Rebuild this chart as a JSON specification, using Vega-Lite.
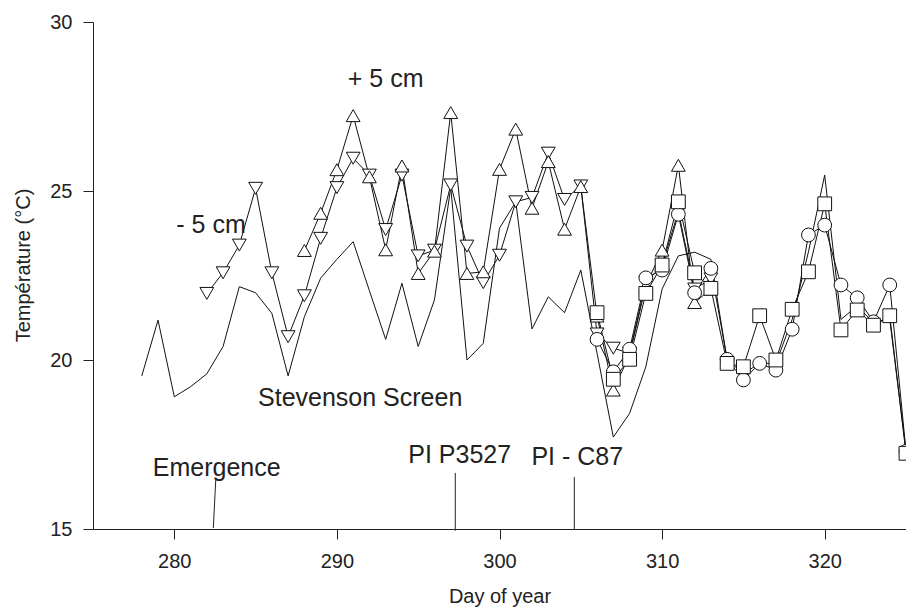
{
  "$schema": "https://vega.github.io/schema/vega-lite/v6.json",
  "width": 813,
  "height": 507,
  "autosize": {"type": "none"},
  "padding": {"left": 93, "top": 22, "right": 0, "bottom": 78},
  "background": "white",
  "config": {
    "view": {"stroke": null},
    "font": "Liberation Sans",
    "axis": {
      "grid": false,
      "domainColor": "#222222",
      "tickColor": "#222222",
      "labelColor": "#222222",
      "titleColor": "#222222",
      "labelFont": "Liberation Sans",
      "titleFont": "Liberation Sans",
      "labelFontSize": 20,
      "titleFontSize": 20,
      "titleFontWeight": "normal",
      "tickSize": 10,
      "domainWidth": 1,
      "tickWidth": 1
    }
  },
  "datasets": {
    "temps": [
      {"series": "-5 cm", "day": 282, "temp": 21.97},
      {"series": "-5 cm", "day": 283, "temp": 22.58},
      {"series": "-5 cm", "day": 284, "temp": 23.40},
      {"series": "-5 cm", "day": 285, "temp": 25.08},
      {"series": "-5 cm", "day": 286, "temp": 22.58},
      {"series": "-5 cm", "day": 287, "temp": 20.69},
      {"series": "-5 cm", "day": 288, "temp": 21.90},
      {"series": "-5 cm", "day": 289, "temp": 23.60},
      {"series": "-5 cm", "day": 290, "temp": 25.10},
      {"series": "-5 cm", "day": 291, "temp": 25.97},
      {"series": "-5 cm", "day": 292, "temp": 25.47},
      {"series": "-5 cm", "day": 293, "temp": 23.86},
      {"series": "-5 cm", "day": 294, "temp": 25.47},
      {"series": "-5 cm", "day": 295, "temp": 23.08},
      {"series": "-5 cm", "day": 296, "temp": 23.25},
      {"series": "-5 cm", "day": 297, "temp": 25.18},
      {"series": "-5 cm", "day": 298, "temp": 23.37},
      {"series": "-5 cm", "day": 299, "temp": 22.29},
      {"series": "-5 cm", "day": 300, "temp": 23.10},
      {"series": "-5 cm", "day": 301, "temp": 24.68},
      {"series": "-5 cm", "day": 302, "temp": 24.81},
      {"series": "-5 cm", "day": 303, "temp": 26.12},
      {"series": "-5 cm", "day": 304, "temp": 24.75},
      {"series": "-5 cm", "day": 305, "temp": 25.15},
      {"series": "-5 cm", "day": 306, "temp": 20.77},
      {"series": "-5 cm", "day": 307, "temp": 20.35},
      {"series": "-5 cm", "day": 308, "temp": 20.20},
      {"series": "-5 cm", "day": 309, "temp": 22.30},
      {"series": "-5 cm", "day": 310, "temp": 22.80},
      {"series": "-5 cm", "day": 311, "temp": 24.40},
      {"series": "-5 cm", "day": 312, "temp": 22.10},
      {"series": "-5 cm", "day": 313, "temp": 22.40},
      {"series": "+5 cm", "day": 288, "temp": 23.24},
      {"series": "+5 cm", "day": 289, "temp": 24.34},
      {"series": "+5 cm", "day": 290, "temp": 25.63},
      {"series": "+5 cm", "day": 291, "temp": 27.23},
      {"series": "+5 cm", "day": 292, "temp": 25.42},
      {"series": "+5 cm", "day": 293, "temp": 23.26},
      {"series": "+5 cm", "day": 294, "temp": 25.74},
      {"series": "+5 cm", "day": 295, "temp": 22.56},
      {"series": "+5 cm", "day": 296, "temp": 23.22},
      {"series": "+5 cm", "day": 297, "temp": 27.32},
      {"series": "+5 cm", "day": 298, "temp": 22.56},
      {"series": "+5 cm", "day": 299, "temp": 22.61},
      {"series": "+5 cm", "day": 300, "temp": 25.64},
      {"series": "+5 cm", "day": 301, "temp": 26.83},
      {"series": "+5 cm", "day": 302, "temp": 24.49},
      {"series": "+5 cm", "day": 303, "temp": 25.87},
      {"series": "+5 cm", "day": 304, "temp": 23.87},
      {"series": "+5 cm", "day": 305, "temp": 25.13},
      {"series": "+5 cm", "day": 306, "temp": 21.30},
      {"series": "+5 cm", "day": 307, "temp": 19.11},
      {"series": "+5 cm", "day": 308, "temp": 20.15},
      {"series": "+5 cm", "day": 309, "temp": 22.20},
      {"series": "+5 cm", "day": 310, "temp": 23.25},
      {"series": "+5 cm", "day": 311, "temp": 25.76},
      {"series": "+5 cm", "day": 312, "temp": 21.70},
      {"series": "+5 cm", "day": 313, "temp": 22.10},
      {"series": "C87 circle", "day": 306, "temp": 20.61},
      {"series": "C87 circle", "day": 307, "temp": 19.65},
      {"series": "C87 circle", "day": 308, "temp": 20.32},
      {"series": "C87 circle", "day": 309, "temp": 22.43},
      {"series": "C87 circle", "day": 310, "temp": 22.66},
      {"series": "C87 circle", "day": 311, "temp": 24.31},
      {"series": "C87 circle", "day": 312, "temp": 21.99},
      {"series": "C87 circle", "day": 313, "temp": 22.71},
      {"series": "C87 circle", "day": 314, "temp": 20.02},
      {"series": "C87 circle", "day": 315, "temp": 19.41},
      {"series": "C87 circle", "day": 316, "temp": 19.90},
      {"series": "C87 circle", "day": 317, "temp": 19.70},
      {"series": "C87 circle", "day": 318, "temp": 20.91},
      {"series": "C87 circle", "day": 319, "temp": 23.70},
      {"series": "C87 circle", "day": 320, "temp": 23.99},
      {"series": "C87 circle", "day": 321, "temp": 22.22},
      {"series": "C87 circle", "day": 322, "temp": 21.84},
      {"series": "C87 circle", "day": 323, "temp": 21.13},
      {"series": "C87 circle", "day": 324, "temp": 22.22},
      {"series": "C87 circle", "day": 325, "temp": 17.30},
      {"series": "C87 square", "day": 306, "temp": 21.40},
      {"series": "C87 square", "day": 307, "temp": 19.43},
      {"series": "C87 square", "day": 308, "temp": 20.02},
      {"series": "C87 square", "day": 309, "temp": 21.97},
      {"series": "C87 square", "day": 310, "temp": 22.81},
      {"series": "C87 square", "day": 311, "temp": 24.68},
      {"series": "C87 square", "day": 312, "temp": 22.58},
      {"series": "C87 square", "day": 313, "temp": 22.12},
      {"series": "C87 square", "day": 314, "temp": 19.90},
      {"series": "C87 square", "day": 315, "temp": 19.80},
      {"series": "C87 square", "day": 316, "temp": 21.31},
      {"series": "C87 square", "day": 317, "temp": 20.00},
      {"series": "C87 square", "day": 318, "temp": 21.50},
      {"series": "C87 square", "day": 319, "temp": 22.61},
      {"series": "C87 square", "day": 320, "temp": 24.62},
      {"series": "C87 square", "day": 321, "temp": 20.89},
      {"series": "C87 square", "day": 322, "temp": 21.48},
      {"series": "C87 square", "day": 323, "temp": 21.03},
      {"series": "C87 square", "day": 324, "temp": 21.31},
      {"series": "C87 square", "day": 325, "temp": 17.24},
      {"series": "Stevenson Screen", "day": 278, "temp": 19.53},
      {"series": "Stevenson Screen", "day": 279, "temp": 21.18},
      {"series": "Stevenson Screen", "day": 280, "temp": 18.91},
      {"series": "Stevenson Screen", "day": 281, "temp": 19.21},
      {"series": "Stevenson Screen", "day": 282, "temp": 19.59},
      {"series": "Stevenson Screen", "day": 283, "temp": 20.40},
      {"series": "Stevenson Screen", "day": 284, "temp": 22.17},
      {"series": "Stevenson Screen", "day": 285, "temp": 21.99},
      {"series": "Stevenson Screen", "day": 286, "temp": 21.38},
      {"series": "Stevenson Screen", "day": 287, "temp": 19.53},
      {"series": "Stevenson Screen", "day": 288, "temp": 21.28},
      {"series": "Stevenson Screen", "day": 289, "temp": 22.42},
      {"series": "Stevenson Screen", "day": 290, "temp": 22.98},
      {"series": "Stevenson Screen", "day": 291, "temp": 23.50},
      {"series": "Stevenson Screen", "day": 292, "temp": 22.05},
      {"series": "Stevenson Screen", "day": 293, "temp": 20.61},
      {"series": "Stevenson Screen", "day": 294, "temp": 22.27},
      {"series": "Stevenson Screen", "day": 295, "temp": 20.40},
      {"series": "Stevenson Screen", "day": 296, "temp": 21.78},
      {"series": "Stevenson Screen", "day": 297, "temp": 25.10},
      {"series": "Stevenson Screen", "day": 298, "temp": 20.00},
      {"series": "Stevenson Screen", "day": 299, "temp": 20.49},
      {"series": "Stevenson Screen", "day": 300, "temp": 23.90},
      {"series": "Stevenson Screen", "day": 301, "temp": 24.68},
      {"series": "Stevenson Screen", "day": 302, "temp": 20.92},
      {"series": "Stevenson Screen", "day": 303, "temp": 21.87},
      {"series": "Stevenson Screen", "day": 304, "temp": 21.40},
      {"series": "Stevenson Screen", "day": 305, "temp": 22.66},
      {"series": "Stevenson Screen", "day": 306, "temp": 20.20},
      {"series": "Stevenson Screen", "day": 307, "temp": 17.72},
      {"series": "Stevenson Screen", "day": 308, "temp": 18.42},
      {"series": "Stevenson Screen", "day": 309, "temp": 19.80},
      {"series": "Stevenson Screen", "day": 310, "temp": 22.10},
      {"series": "Stevenson Screen", "day": 311, "temp": 23.08},
      {"series": "Stevenson Screen", "day": 312, "temp": 23.19},
      {"series": "Stevenson Screen", "day": 313, "temp": 22.98},
      {"series": "Stevenson Screen", "day": 314, "temp": 20.00},
      {"series": "Stevenson Screen", "day": 315, "temp": 19.60},
      {"series": "Stevenson Screen", "day": 316, "temp": 19.90},
      {"series": "Stevenson Screen", "day": 317, "temp": 19.90},
      {"series": "Stevenson Screen", "day": 318, "temp": 21.20},
      {"series": "Stevenson Screen", "day": 319, "temp": 23.20},
      {"series": "Stevenson Screen", "day": 320, "temp": 25.47},
      {"series": "Stevenson Screen", "day": 321, "temp": 21.20},
      {"series": "Stevenson Screen", "day": 322, "temp": 21.60},
      {"series": "Stevenson Screen", "day": 323, "temp": 21.10},
      {"series": "Stevenson Screen", "day": 324, "temp": 21.20},
      {"series": "Stevenson Screen", "day": 325, "temp": 17.30}
    ],
    "notes": [
      {"day": 293.0, "temp": 28.08, "label": "+ 5 cm"},
      {"day": 282.26, "temp": 23.76, "label": "- 5 cm"},
      {"day": 291.43, "temp": 18.65, "label": "Stevenson Screen"},
      {"day": 282.61, "temp": 16.57, "label": "Emergence"},
      {"day": 297.55, "temp": 16.96, "label": "PI P3527"},
      {"day": 304.78, "temp": 16.88, "label": "PI - C87"}
    ],
    "events": [
      {"day": 282.4, "day2": 282.55, "temp": 15.03, "temp2": 16.45},
      {"day": 297.28, "day2": 297.28, "temp": 14.95, "temp2": 16.66},
      {"day": 304.6, "day2": 304.6, "temp": 15.0, "temp2": 16.54}
    ]
  },
  "layer": [
    {
      "data": {"name": "temps"},
      "mark": {"type": "line", "color": "#111111", "strokeWidth": 1},
      "encoding": {
        "x": {
          "field": "day",
          "type": "quantitative",
          "scale": {"domain": [275, 325], "nice": false, "zero": false},
          "axis": {
            "title": "Day of year",
            "values": [280, 290, 300, 310, 320],
            "labelPadding": 12,
            "titleBaseline": "alphabetic",
            "titleY": 73
          }
        },
        "y": {
          "field": "temp",
          "type": "quantitative",
          "scale": {"domain": [15, 30], "nice": false, "zero": false},
          "axis": {
            "title": "Température (°C)",
            "values": [15, 20, 25, 30],
            "labelPadding": 11,
            "titleAngle": -90,
            "titleAlign": "center",
            "titleBaseline": "middle",
            "titleX": -70,
            "titleY": 243
          }
        },
        "detail": {"field": "series", "type": "nominal"}
      }
    },
    {
      "data": {"name": "temps"},
      "transform": [{"filter": "datum.series != 'Stevenson Screen'"}],
      "mark": {"type": "point", "filled": true, "fill": "white", "stroke": "#111111", "strokeWidth": 1, "opacity": 1, "fillOpacity": 1},
      "encoding": {
        "x": {"field": "day", "type": "quantitative"},
        "y": {"field": "temp", "type": "quantitative"},
        "shape": {
          "field": "series",
          "type": "nominal",
          "scale": {"domain": ["-5 cm", "+5 cm", "C87 circle", "C87 square"], "range": ["triangle-down", "triangle-up", "circle", "square"]},
          "legend": null
        },
        "size": {
          "field": "series",
          "type": "nominal",
          "scale": {"domain": ["-5 cm", "+5 cm", "C87 circle", "C87 square"], "range": [190, 190, 140, 144]},
          "legend": null
        }
      }
    },
    {
      "data": {"name": "events"},
      "mark": {"type": "rule", "color": "#222222", "strokeWidth": 1},
      "encoding": {
        "x": {"field": "day", "type": "quantitative"},
        "x2": {"field": "day2"},
        "y": {"field": "temp", "type": "quantitative"},
        "y2": {"field": "temp2"}
      }
    },
    {
      "data": {"name": "notes"},
      "mark": {"type": "text", "font": "Liberation Sans", "fontSize": 25, "color": "#222222", "align": "center", "baseline": "alphabetic"},
      "encoding": {
        "x": {"field": "day", "type": "quantitative"},
        "y": {"field": "temp", "type": "quantitative"},
        "text": {"field": "label"}
      }
    }
  ]
}
